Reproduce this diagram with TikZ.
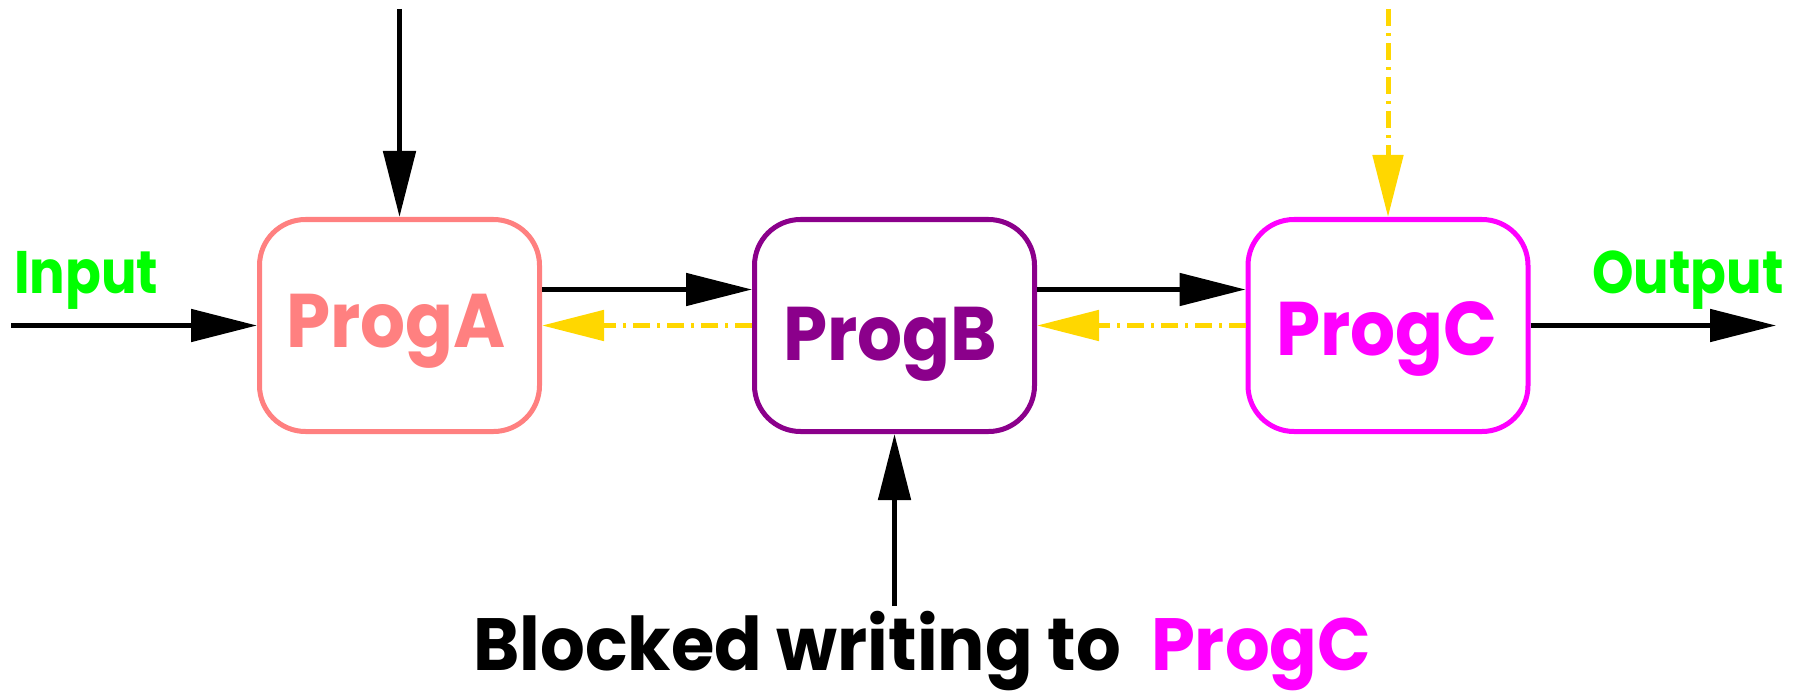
\documentclass[tikz,border=0pt]{standalone}
\usepackage{fontspec}
\usetikzlibrary{arrows.meta}
\newfontfamily\lblfont{Poppins}[FakeStretch=0.93]
\newfontfamily\iofont{Poppins}[FakeStretch=0.88]
\newfontfamily\capfont{Poppins}[FakeStretch=0.95]
\definecolor{progA}{RGB}{255,128,128}
\definecolor{progB}{RGB}{139,0,139}
\definecolor{progC}{RGB}{255,0,255}
\definecolor{iogreen}{RGB}{0,255,0}
\definecolor{gold}{RGB}{255,215,0}
\tikzset{
  box/.style={draw, rounded corners=46pt, minimum width=280pt, minimum height=212pt,
    line width=5pt, inner sep=0pt},
  arr/.style={line width=5pt, -{Triangle[length=66pt,width=32pt]}},
  yarr/.style={line width=5pt, draw=gold, dash pattern=on 17pt off 7pt on 3pt off 7pt,
    -{Triangle[length=62pt,width=30pt,fill=gold]}},
  boxlbl/.style={anchor=base, inner sep=0pt, font=\lblfont\bfseries\fontsize{76}{80}\selectfont},
  iolbl/.style={inner sep=0pt, text=iogreen, font=\iofont\bfseries\fontsize{60}{64}\selectfont}
}
\begin{document}
\begin{tikzpicture}[x=1pt,y=-1pt]
\useasboundingbox (0,0) rectangle (1801,695);
% program boxes
\node[box, draw=progA] (A) at (399.5,325.5) {};
\node[box, draw=progB] (B) at (894.5,325.5) {};
\node[box, draw=progC] (C) at (1388,325.5) {};
\node[boxlbl, text=progA] (Alab) at (396,347) {ProgA};
\node[boxlbl, text=progB] (Blab) at (890,360) {ProgB};
\node[boxlbl, text=progC] (Clab) at (1387,355) {ProgC};
% input / output
\node[iolbl, anchor=base west] (inlab) at (14,293) {Input};
\node[iolbl, anchor=base east] (outlab) at (1784,293) {Output};
\coordinate (inS) at (11,325.5);
\coordinate (outE) at (1776,325.5);
\coordinate (topA) at (399.5,9);
\coordinate (topC) at (1388,9);
\coordinate (botB) at (894.5,606);
% bottom caption
\node[anchor=base west, inner sep=0pt, font=\capfont\bfseries\fontsize{74}{80}\selectfont] (cap) at (473,670)
  {Blocked writing to\ \ \textcolor{progC}{ProgC}};
% forward data flow
\draw[arr] (inS) -- (A.west);
\draw[arr] ([yshift=36pt]A.east) -- ([yshift=36pt]B.west);
\draw[arr] ([yshift=36pt]B.east) -- ([yshift=36pt]C.west);
\draw[arr] (C.east) -- (outE);
\draw[arr] (topA) -- (A.north);
\draw[arr] (botB) -- (B.south);
% blocked back pressure
\draw[yarr] (C.west) -- (B.east);
\draw[yarr] (B.west) -- (A.east);
\draw[yarr] (topC) -- (C.north);
\end{tikzpicture}
\end{document}
